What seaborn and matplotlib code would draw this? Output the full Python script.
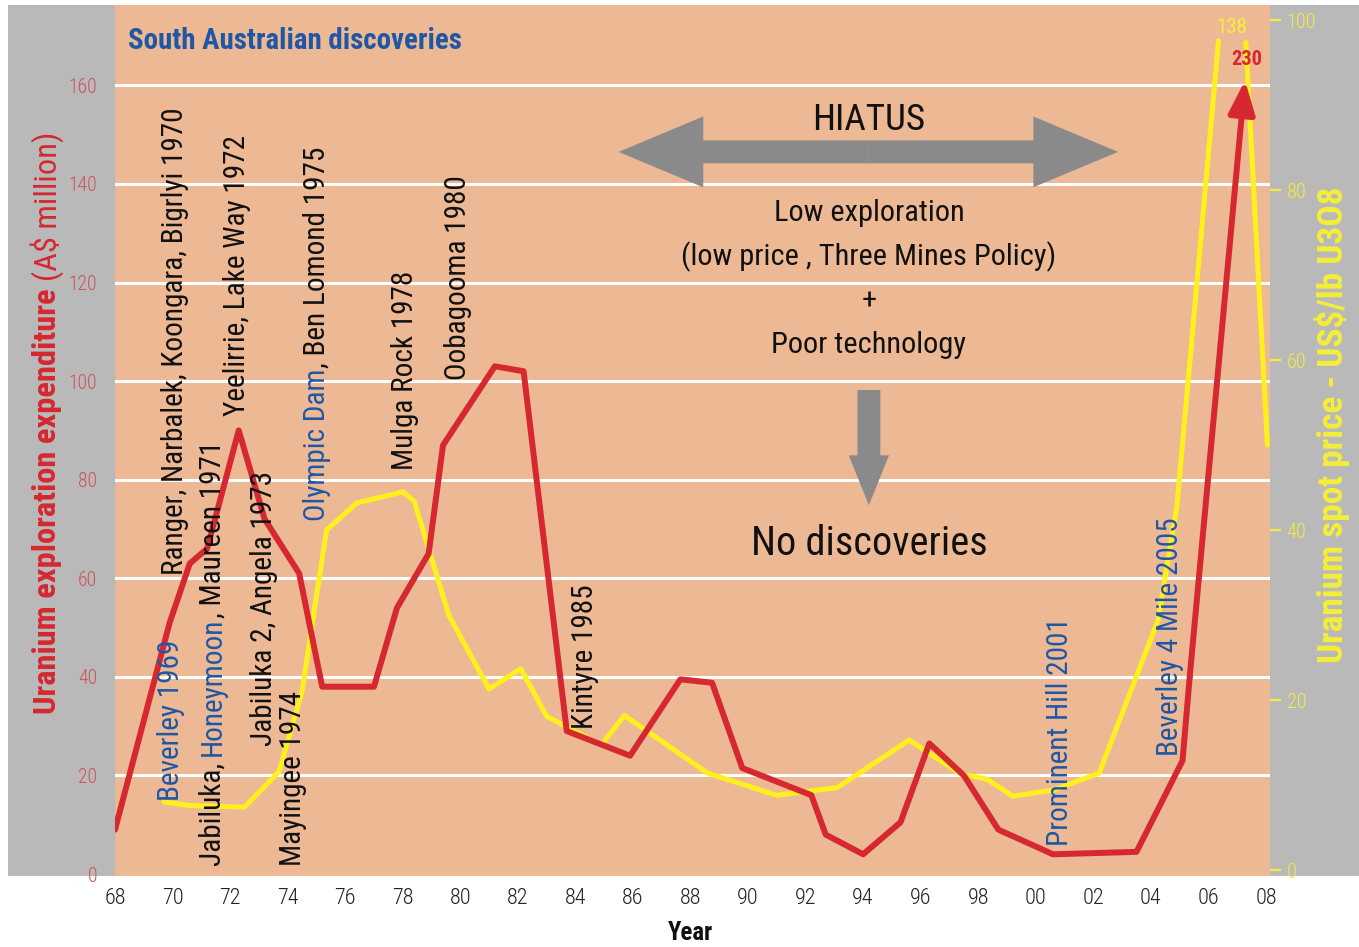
import numpy as np
import pandas as pd
import matplotlib
matplotlib.use("Agg")
import matplotlib.pyplot as plt
import matplotlib.transforms as mtransforms
from matplotlib.lines import Line2D
from matplotlib.patches import Rectangle
import seaborn as sns

# --- Data ---
# Uranium exploration expenditure (A$ million), left axis
exp_years = [1968.0, 1969.9, 1970.6, 1971.2, 1972.3, 1973.2, 1974.4, 1975.2, 1977.0, 1977.8,
             1978.9, 1979.4, 1981.2, 1982.2, 1983.7, 1985.9, 1987.65, 1988.75, 1989.8, 1992.2,
             1992.7, 1994.0, 1995.3, 1996.3, 1997.5, 1998.7, 2000.6, 2003.5, 2005.1, 2005.35,
             2007.27]
exp_values = [9, 51, 63, 66, 90, 72, 61, 38, 38, 54,
              65, 87, 103, 102, 29, 24, 39.5, 38.8, 21.5, 16,
              8, 4, 10.5, 26.5, 20, 9, 4, 4.5, 23, 40,
              161]
exp_peak = 230

# Uranium spot price (US$/lb U3O8), right axis; the peak runs off the chart
price_years = [1969.7, 1970.6, 1972.5, 1973.7, 1974.5, 1975.35, 1976.4, 1978.0, 1978.4, 1979.6,
               1981.0, 1982.1, 1983.0, 1984.9, 1985.7, 1988.6, 1991.0, 1993.1, 1995.6, 1997.4,
               1998.3, 1999.2, 2000.6, 2002.2, 2004.25, 2004.9, 2005.4, 2006.35, 2006.8, 2007.3,
               2008.05]
price_values = [8.0, 7.6, 7.4, 11.6, 21, 40, 43.2, 44.5, 43.4, 30,
                21.3, 23.7, 18.1, 14.7, 18.2, 11.4, 8.8, 9.7, 15.3, 11.3,
                10.7, 8.7, 9.4, 11.4, 29.4, 42.7, 61.5, 97.6, np.nan, 97.4,
                50]
price_peak = 138

x_ticks = list(range(1968, 2009, 2))
exp_ticks = list(range(0, 161, 20))
price_ticks = list(range(0, 101, 20))

# --- Colours ---
peach = "#EDB995"
grey_bg = "#B9B9B9"
red = "#D62830"
yellow = "#FFF01E"
yellow_txt = "#F4EE3A"
blue = "#1F57A5"
black = "#111111"
arrow_grey = "#8A8A8A"

sns.set_style("white")
# condensed faces first if present, otherwise a plain Arial-like face
plt.rcParams["font.family"] = ["Liberation Sans Narrow", "DejaVu Sans Condensed",
                               "Roboto Condensed", "Liberation Sans", "DejaVu Sans"]

W, H = 1359, 947
fig = plt.figure(figsize=(W / 100, H / 100), dpi=100)
fig.patch.set_facecolor("white")
fig.add_artist(Rectangle((8 / W, 71 / H), 1 - 8 / W, 871 / H, transform=fig.transFigure,
                         facecolor=grey_bg, edgecolor="none", zorder=-5))
renderer = fig.canvas.get_renderer()


def text_width(s, size, weight="normal"):
    t = fig.text(0, 0, s, fontsize=size, fontweight=weight)
    w = t.get_window_extent(renderer).width
    t.remove()
    return w


def fit_size(s, target_px, weight="normal", ref=20):
    # font size that makes the string about target_px wide
    return ref * target_px / text_width(s, ref, weight)


def vertical_text(ax, x, y, parts, colors, size, weights=None, transform=None, centred=False):
    # rotated text built from pieces that may differ in colour / weight
    weights = weights or ["normal"] * len(parts)
    base = transform if transform is not None else ax.transData
    widths = [text_width(p + "I", size, w) - text_width("I", size, w)
              for p, w in zip(parts, weights)]
    shift = -sum(widths) / 2 if centred else 0
    for part, col, wt, wd in zip(parts, colors, weights, widths):
        tr = mtransforms.offset_copy(base, fig=fig, y=shift, units="dots")
        ax.text(x, y, part, color=col, fontsize=size, fontweight=wt, rotation=90,
                rotation_mode="anchor", ha="left", va="center", transform=tr)
        shift += wd


ax_exp = fig.add_axes([115 / W, 71 / H, 1155 / W, 871 / H])
ax_price = ax_exp.twinx()
ax_exp.set_zorder(2)
ax_price.set_zorder(1)
ax_exp.patch.set_visible(False)
ax_price.patch.set_visible(True)
ax_price.set_facecolor(peach)

ax_exp.set_xlim(1968, 2008.14)
ax_exp.set_ylim(-0.4, 176.3)
ax_price.set_ylim(-0.7, 101.8)

# white gridlines at the left-axis ticks, drawn under both series
blend = mtransforms.blended_transform_factory(ax_price.transAxes, ax_exp.transData)
for v in exp_ticks[1:]:
    ax_price.add_line(Line2D([0, 1], [v, v], transform=blend, color="white", lw=2.2, zorder=0.5))

# --- Series ---
price_df = pd.DataFrame({"year": price_years, "price": price_values})
price_df["segment"] = price_df["price"].isna().cumsum()
price_df = price_df.dropna()
sns.lineplot(data=price_df, x="year", y="price", units="segment", estimator=None,
             ax=ax_price, color=yellow, linewidth=3.6, legend=False)

sns.lineplot(x=exp_years[:-1], y=exp_values[:-1], ax=ax_exp, color=red, linewidth=4.3,
             estimator=None)
ax_exp.annotate("", xy=(exp_years[-1], exp_values[-1]), xytext=(exp_years[-2], exp_values[-2]),
                arrowprops=dict(arrowstyle="-|>,head_length=1.0,head_width=0.4", mutation_scale=20,
                                color=red, lw=4.3, shrinkA=0, shrinkB=0))

ax_exp.text(2006.82, 171.7, str(price_peak), color=yellow_txt, fontsize=fit_size("138", 31),
            ha="center", va="center")
ax_exp.text(2007.34, 165.2, str(exp_peak), color=red, fontsize=fit_size("230", 31, "bold"),
            fontweight="bold", ha="center", va="center")

# --- Axes styling ---
for a in (ax_exp, ax_price):
    for s in a.spines.values():
        s.set_visible(False)
    a.grid(False)

ax_exp.set_xticks(x_ticks)
ax_exp.xaxis.set_major_formatter(plt.FuncFormatter(lambda v, _: f"{int(round(v)) % 100:02d}"))
ax_exp.set_yticks(exp_ticks)
ax_price.set_yticks(price_ticks)
ax_exp.tick_params(axis="x", length=0, pad=8.5, labelsize=fit_size("68", 22),
                   labelcolor="#222222")
ax_exp.tick_params(axis="y", length=0, pad=13, labelsize=fit_size("160", 29),
                   labelcolor="#D0505C")
ax_price.tick_params(axis="y", length=8, width=1.6, color=yellow_txt, pad=4,
                     labelsize=fit_size("100", 30), labelcolor=yellow_txt)
for lbl in ax_exp.get_xticklabels() + ax_exp.get_yticklabels() + ax_price.get_yticklabels():
    lbl.set_fontweight("light")

ax_exp.set_xlabel("Year", fontsize=fit_size("Year", 45, "bold"), fontweight="bold", color=black)
ax_exp.xaxis.set_label_coords(0.498, -0.0654)
ax_exp.xaxis.label.set_va("center")
ax_exp.set_ylabel("")

# left axis title: bold words, lighter unit in brackets
left_parts = ["Uranium exploration expenditure ", "(A$ million)"]
left_size = fit_size("".join(left_parts), 584, "bold")
vertical_text(ax_exp, -0.0589, 0.52, left_parts, [red, red], left_size,
              weights=["bold", "normal"], transform=ax_exp.transAxes, centred=True)

right_label = "Uranium spot price - US$/lb U3O8"
ax_price.set_ylabel(right_label, fontsize=fit_size(right_label, 475, "bold"),
                    fontweight="bold", color=yellow_txt)
ax_price.yaxis.set_label_coords(1.0537, 0.518)
ax_price.yaxis.label.set_va("center")

# --- Annotations ---
title = "South Australian discoveries"
ax_exp.text(1968.45, 168.9, title, color=blue, fontsize=fit_size(title, 334, "bold"),
            fontweight="bold", ha="left", va="center")

cx = 1994.2
mid_size = fit_size("(low price , Three Mines Policy)", 375)
ax_exp.text(cx, 153, "HIATUS", fontsize=fit_size("HIATUS", 113), color=black,
            ha="center", va="center")
ax_exp.text(cx, 134.1, "Low exploration", fontsize=mid_size, color=black, ha="center", va="center")
ax_exp.text(cx, 125.2, "(low price , Three Mines Policy)", fontsize=mid_size, color=black,
            ha="center", va="center")
ax_exp.text(cx, 116.1, "+", fontsize=mid_size, color=black, ha="center", va="center")
ax_exp.text(cx, 107.3, "Poor technology", fontsize=mid_size, color=black, ha="center", va="center")
ax_exp.text(cx, 67.1, "No discoveries", fontsize=fit_size("No discoveries", 236), color=black,
            ha="center", va="center")

big_arrow = dict(arrowstyle="simple,head_length=61,head_width=51,tail_width=16.5",
                 mutation_scale=1, color=arrow_grey, lw=0, shrinkA=0, shrinkB=0)
ax_exp.annotate("", xy=(1985.5, 146.5), xytext=(cx, 146.5), arrowprops=big_arrow)
ax_exp.annotate("", xy=(2002.86, 146.5), xytext=(cx, 146.5), arrowprops=big_arrow)
ax_exp.annotate("", xy=(cx, 74.8), xytext=(cx, 98.2),
                arrowprops=dict(arrowstyle="simple,head_length=36,head_width=29,tail_width=16.5",
                                mutation_scale=1, color=arrow_grey, lw=0, shrinkA=0, shrinkB=0))

# vertical discovery labels, some with mixed colours
ls = fit_size("Ranger, Narbalek, Koongara, Bigrlyi 1970", 467)
vertical_text(ax_exp, 1969.94, 14.8, ["Beverley 1969"], [blue], ls)
vertical_text(ax_exp, 1970.1, 60.6, ["Ranger, Narbalek, Koongara, Bigrlyi 1970"], [black], ls)
vertical_text(ax_exp, 1971.4, 1.6, ["Jabiluka, ", "Honeymoon", ", Maureen 1971"],
              [black, blue, black], ls)
vertical_text(ax_exp, 1972.24, 93, ["Yeelirrie, Lake Way 1972"], [black], ls)
vertical_text(ax_exp, 1973.17, 26, ["Jabiluka 2, Angela 1973"], [black], ls)
vertical_text(ax_exp, 1974.2, 1.6, ["Mayingee 1974"], [black], ls)
vertical_text(ax_exp, 1975.01, 71.7, ["Olympic Dam", ", Ben Lomond 1975"], [blue, black], ls)
vertical_text(ax_exp, 1978.07, 81.9, ["Mulga Rock 1978"], [black], ls)
vertical_text(ax_exp, 1979.91, 100.2, ["Oobagooma 1980"], [black], ls)
vertical_text(ax_exp, 1984.35, 29.5, ["Kintyre 1985"], [black], ls)
vertical_text(ax_exp, 2000.85, 5.7, ["Prominent Hill 2001"], [blue], ls)
vertical_text(ax_exp, 2004.67, 24, ["Beverley 4 Mile 2005"], [blue], ls)

fig.savefig("out.png", dpi=100, facecolor=fig.get_facecolor())
